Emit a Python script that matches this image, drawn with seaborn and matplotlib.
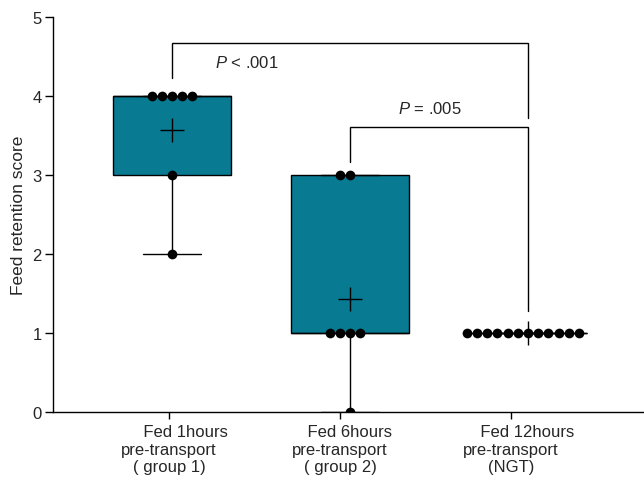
import numpy as np
import pandas as pd
import matplotlib

matplotlib.use("Agg")

import matplotlib.pyplot as plt
import seaborn as sns

# Raw scores per group
group_keys = ["g1", "g2", "ngt"]
group1_scores = [4, 4, 4, 4, 4, 3, 2]
group2_scores = [3, 3, 1, 1, 1, 1, 0]
ngt_scores = [1, 1, 1, 1, 1, 1, 1, 1, 1, 1, 1, 1]

tick_labels = [
    "       Fed 1hours\npre-transport\n( group 1)",
    "    Fed 6hours\npre-transport\n( group 2)",
    "       Fed 12hours\npre-transport\n(NGT)",
]

# significance brackets: (left group, right group, top, left leg end, right leg end)
bracket_pairs = [(0, 2), (1, 2)]
bracket_tops = [4.67, 3.61]
bracket_left_ends = [4.23, 3.16]
bracket_right_ends = [3.72, 1.28]
p_labels = [r"$\mathit{P}$ < .001", r"$\mathit{P}$ = .005"]

box_color = "#087b93"

sns.set_style("white")
plt.rcParams["font.family"] = ["Liberation Sans", "DejaVu Sans"]
plt.rcParams["mathtext.fontset"] = "custom"
plt.rcParams["mathtext.rm"] = "Liberation Sans"
plt.rcParams["mathtext.it"] = "Liberation Sans:italic"

raw = pd.DataFrame({
    "group": ["g1"] * len(group1_scores)
    + ["g2"] * len(group2_scores)
    + ["ngt"] * len(ngt_scores),
    "score": group1_scores + group2_scores + ngt_scores,
})

# GraphPad-style quartiles -> five-number summary for the boxes
summary_rows = []
for key in group_keys:
    vals = raw.loc[raw["group"] == key, "score"].values
    five = np.percentile(vals, [0, 25, 50, 75, 100], method="weibull")
    for v in five:
        summary_rows.append({"group": key, "score": v})
summary = pd.DataFrame(summary_rows)

fig = plt.figure(figsize=(6.44, 4.81), dpi=100)
ax = fig.add_axes([0.0823, 0.1414, 0.9177, 0.8212])

sns.boxplot(
    data=summary,
    x="group",
    y="score",
    order=group_keys,
    color=box_color,
    saturation=1,
    width=0.66,
    whis=(0, 100),
    showfliers=False,
    linecolor="black",
    linewidth=1,
    ax=ax,
)
sns.swarmplot(
    data=raw,
    x="group",
    y="score",
    order=group_keys,
    color="black",
    size=7.0,
    zorder=3,
    ax=ax,
)
sns.pointplot(
    data=raw,
    x="group",
    y="score",
    order=group_keys,
    estimator="mean",
    errorbar=None,
    markers="+",
    linestyles="none",
    color="black",
    markersize=17,
    markeredgewidth=1,
    zorder=4,
    ax=ax,
)

# brackets
for (a, b), top, le, re in zip(
    bracket_pairs, bracket_tops, bracket_left_ends, bracket_right_ends
):
    ax.plot([a, a, b, b], [le, top, top, re], color="black", lw=1,
            solid_joinstyle="miter")

ax.text(0.24, 4.43, p_labels[0], ha="left", va="center", fontsize=12)
ax.text(1.27, 3.85, p_labels[1], ha="left", va="center", fontsize=12)

ax.set_xlim(-0.669, 2.652)
ax.set_ylim(0, 5)
ax.set_yticks([0, 1, 2, 3, 4, 5])
ax.set_xticks([-0.017, 0.944, 1.904])
ax.set_xticklabels(tick_labels, fontsize=12, linespacing=1.2)
ax.tick_params(axis="y", labelsize=12, length=6, width=1, color="black",
               left=True, pad=2)
ax.tick_params(axis="x", length=5, width=1, color="black", bottom=True,
               pad=4)
ax.set_xlabel("")
ax.set_ylabel("Feed retention score", fontsize=12.5, labelpad=5)

sns.despine(ax=ax)
for side in ["left", "bottom"]:
    ax.spines[side].set_color("black")
    ax.spines[side].set_linewidth(1)

fig.savefig("out.png", dpi=100)
plt.close("all")
